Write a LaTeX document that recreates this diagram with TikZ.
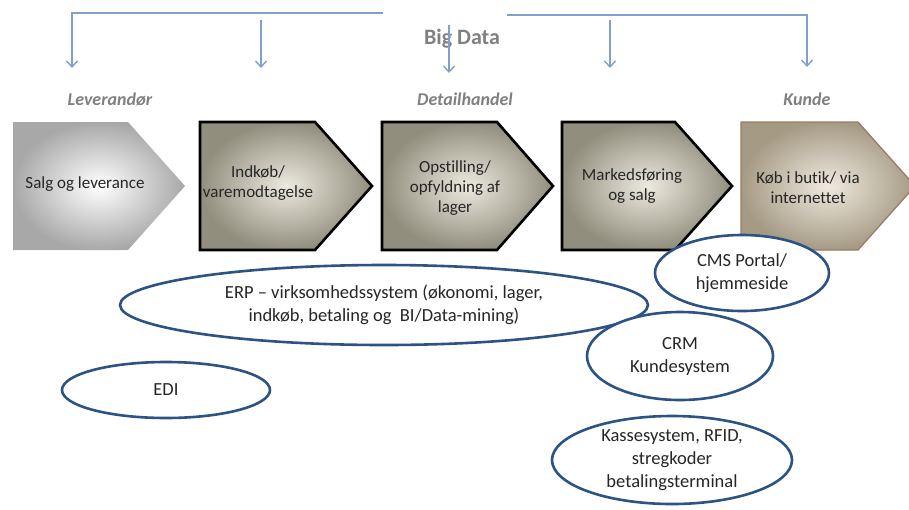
\documentclass[tikz,border=0pt]{standalone}
\usepackage{fontspec}
\setmainfont{Carlito}[Ligatures=NoCommon]
\usetikzlibrary{shapes.geometric,arrows.meta}

\definecolor{linkblue}{HTML}{7FA0CB}
\definecolor{ringblue}{HTML}{2C5383}
\definecolor{headgray}{HTML}{808080}
\definecolor{stagelight}{HTML}{ECE9DE}
\definecolor{stagedark}{HTML}{928E7E}
\definecolor{salggray}{HTML}{A8A8A8}
\definecolor{kundelight}{HTML}{EFEADF}
\definecolor{kundedark}{HTML}{A59A84}
\definecolor{kundeedge}{HTML}{9A7C66}

\begin{document}
\begin{tikzpicture}[x=1pt, y=-1pt,
    link/.style={draw=linkblue, line width=1.4pt,
        -{Straight Barb[length=6pt,width=11pt]}},
    heading/.style={text=headgray,
        font=\fontsize{18}{20}\selectfont\bfseries\itshape},
    stage/.style={draw=black, line width=2.6pt, line join=miter,
        inner color=stagelight, outer color=stagedark},
    stagetext/.style={align=center, text=black!85,
        font=\fontsize{17}{20}\selectfont},
    system/.style={ellipse, draw=ringblue, line width=2.6pt, fill=white,
        align=center, inner sep=0pt, text=black!85,
        font=\fontsize{18.5}{23}\selectfont}
]
    \useasboundingbox (0,0) rectangle (909,509);

    % value chain
    \path[stage, draw=none, inner color=white, outer color=salggray]
        (13,122) -- (128,122) -- (185,186) -- (128,250) -- (13,250) -- cycle;
    \draw[stage] (200,122) -- (315,122) -- (372,186) -- (315,250) -- (200,250) -- cycle;
    \draw[stage] (382,122) -- (497,122) -- (553,186) -- (497,250) -- (382,250) -- cycle;
    \draw[stage] (562,122) -- (675,122) -- (732,186) -- (675,250) -- (562,250) -- cycle;
    \draw[stage, draw=kundeedge, line width=1.3pt,
        inner color=kundelight, outer color=kundedark]
        (741,122) -- (858,122) -- (915,186) -- (858,250) -- (741,250) -- cycle;

    \node[stagetext] (salg) at (85,184) {Salg og leverance};
    \node[stagetext] (indkob) at (258,183) {Indkøb/\\varemodtagelse};
    \node[stagetext] (lager) at (455,188) {Opstilling/\\opfyldning af\\lager};
    \node[stagetext] (marked) at (632,186) {Markedsføring\\og salg};
    \node[stagetext] (butik) at (808,188) {Køb i butik/ via\\internettet};

    % systems
    \node[system, minimum width=528pt, minimum height=80pt] (erp) at (384,305)
        {ERP – virksomhedssystem (økonomi, lager,\\indkøb, betaling og\ \ BI/Data-mining)};
    \node[system, minimum width=208pt, minimum height=56pt] (edi) at (166,390) {EDI};
    \node[system, minimum width=174pt, minimum height=76pt] (cms) at (742,273)
        {CMS Portal/\\hjemmeside};
    \node[system, minimum width=186pt, minimum height=88pt] (crm) at (680,356)
        {CRM\\Kundesystem};
    \node[system, minimum width=240pt, minimum height=88pt] (kasse) at (672,460)
        {Kassesystem, RFID,\\stregkoder\\betalingsterminal};

    % big data bracket
    \node[text=headgray, font=\fontsize{22}{24}\selectfont\bfseries] (bigdata) at (462,39) {Big Data};
    \coordinate (lstart) at (383,13);
    \coordinate (lcorner) at (72,13);
    \coordinate (rstart) at (507,15);
    \coordinate (rcorner) at (807,15);
    \coordinate (lev) at (72,68);
    \coordinate (ind) at (261,68);
    \coordinate (det) at (449,73);
    \coordinate (mar) at (610,68);
    \coordinate (kun) at (807,67);
    \draw[link] (lstart) -- (lcorner) -- (lev);
    \draw[link] (rstart) -- (rcorner) -- (kun);
    \draw[link] (261,20) -- (ind);
    \draw[link] (449,25) -- (det);
    \draw[link] (610,20) -- (mar);

    \node[heading] (leverandor) at (110,99) {Leverandør};
    \node[heading] (detailhandel) at (465,99) {Detailhandel};
    \node[heading] (kunde) at (807,99) {Kunde};
\end{tikzpicture}
\end{document}
